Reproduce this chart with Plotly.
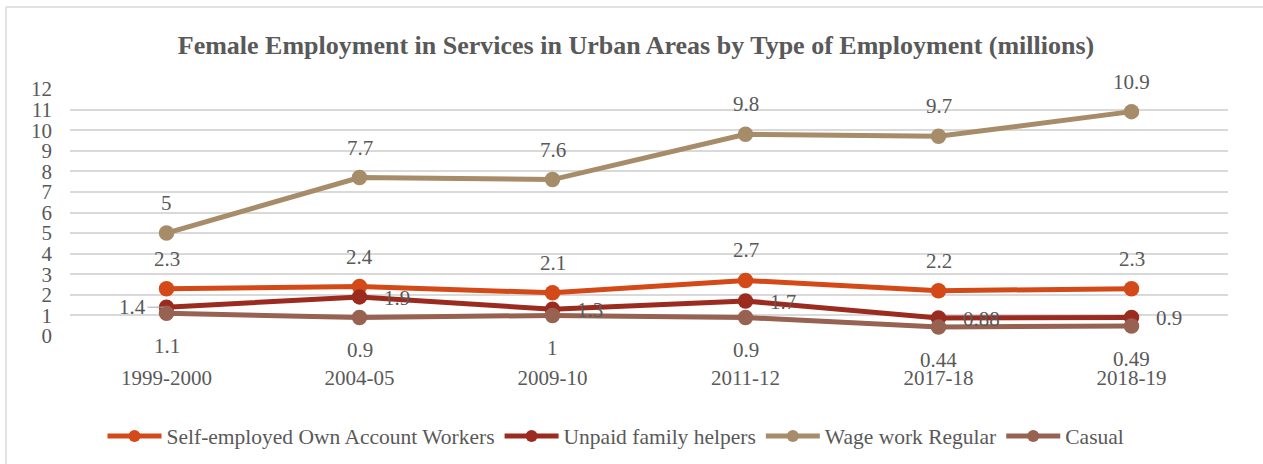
import plotly.graph_objects as go

categories = ["1999-2000", "2004-05", "2009-10", "2011-12", "2017-18", "2018-19"]
self_employed = [2.3, 2.4, 2.1, 2.7, 2.2, 2.3]
unpaid = [1.4, 1.9, 1.3, 1.7, 0.88, 0.9]
wage_regular = [5, 7.7, 7.6, 9.8, 9.7, 10.9]
casual = [1.1, 0.9, 1, 0.9, 0.44, 0.49]
y_ticks = list(range(0, 13))

series = [
    ("Self-employed Own Account Workers", self_employed, "#D34A18", "above"),
    ("Unpaid family helpers", unpaid, "#9C2B1F", "right"),
    ("Wage work Regular", wage_regular, "#A68C69", "above"),
    ("Casual", casual, "#976251", "below"),
]

FONT = "Liberation Serif, Times New Roman, serif"
GREY = "#595959"
FS = 21

W, H = 1263, 464
L, R, T, B = 70, 35, 89, 128
pw, ph = W - L - R, H - T - B

fig = go.Figure()
annotations = []
for name, vals, color, pos in series:
    fig.add_trace(go.Scatter(
        x=categories, y=vals, name=name, mode="lines+markers",
        line=dict(color=color, width=5),
        marker=dict(color=color, size=15.5),
    ))
    for i, (c, v) in enumerate(zip(categories, vals)):
        a = dict(x=c, y=v, text=str(v), showarrow=False,
                 font=dict(family=FONT, size=FS, color=GREY))
        if pos == "above":
            a.update(yshift=30)
        elif pos == "below":
            a.update(yshift=-33)
        else:
            if i == 0:
                a.update(showarrow=True, ax=-34, ay=0, arrowhead=0,
                         arrowwidth=1, arrowcolor="#A6A6A6", standoff=3)
            else:
                a.update(xanchor="left", xshift=22, yshift=-1)
        annotations.append(a)

def px(x):
    return (x - L) / pw

def py(y):
    return (H - B - y) / ph

shapes = [
    dict(type="line", xref="paper", yref="paper", x0=px(6), x1=px(1275), y0=py(7), y1=py(7),
         line=dict(color="#D9D9D9", width=1.5)),
    dict(type="line", xref="paper", yref="paper", x0=px(6), x1=px(6), y0=py(7), y1=py(475),
         line=dict(color="#D9D9D9", width=1.5)),
]

fig.update_layout(
    width=W, height=H,
    margin=dict(l=L, r=R, t=T, b=B, autoexpand=False),
    paper_bgcolor="white", plot_bgcolor="white",
    font=dict(family=FONT, color=GREY, size=FS),
    title=dict(text="<b>Female Employment in Services in Urban Areas by Type of Employment (millions)</b>",
               x=px(636), xanchor="center", xref="paper", y=1 - 45 / H, yanchor="middle",
               font=dict(family=FONT, size=26, color=GREY)),
    xaxis=dict(type="category", categoryorder="array", categoryarray=categories,
               range=[-0.5, 5.5], showgrid=False, zeroline=False, showline=False,
               ticks="", tickfont=dict(family=FONT, size=FS, color=GREY),
               ticklabelstandoff=27, automargin=False),
    yaxis=dict(range=[0, 12], tickvals=y_ticks, showgrid=True, gridcolor="#D9D9D9",
               gridwidth=1.5, zeroline=False, showline=False, ticks="",
               tickfont=dict(family=FONT, size=FS, color=GREY), ticklabelstandoff=17,
               automargin=False),
    legend=dict(orientation="h", x=px(616), xanchor="center", xref="paper",
                y=py(436), yanchor="middle", font=dict(family=FONT, size=21.5, color=GREY),
                itemwidth=54, traceorder="normal", itemsizing="constant"),
    annotations=annotations,
    shapes=shapes,
    showlegend=True,
)

fig.write_html("out.html", config={"displayModeBar": False},
               post_script="document.body.style.margin='0px';document.body.style.overflow='hidden';")
